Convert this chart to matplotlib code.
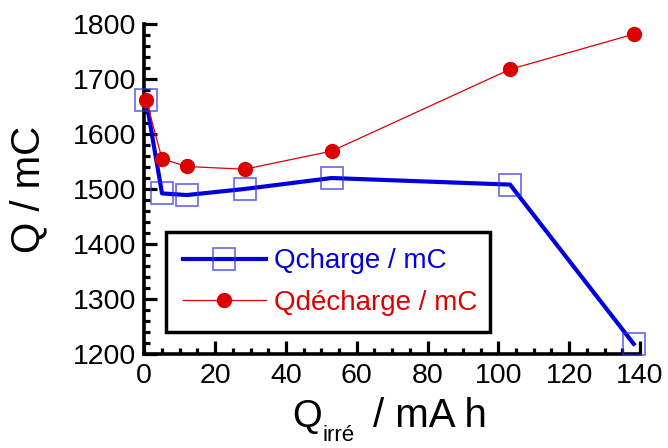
import matplotlib
matplotlib.use("Agg")
import matplotlib.pyplot as plt
from matplotlib.ticker import MultipleLocator

plt.rcParams['font.family'] = ['Liberation Sans', 'DejaVu Sans']

# Data
q_irr = [0.5, 5.0, 12.0, 28.3, 52.9, 103.3, 138.2]
q_charge = [1662, 1492, 1489, 1500, 1520, 1508, 1218]
q_decharge = [1663, 1555, 1541, 1536, 1569, 1718, 1782]
x_ticks = [0, 20, 40, 60, 80, 100, 120, 140]
y_ticks = [1200, 1300, 1400, 1500, 1600, 1700, 1800]
label_charge = "Qcharge / mC"
label_decharge = "Qdécharge / mC"

W, H = 668, 448
fig = plt.figure(figsize=(W / 100, H / 100), dpi=100)
ax = fig.add_axes([144.3 / W, 1 - 353.7 / H, (640 - 144.3) / W, (353.7 - 24.3) / H])

blue = '#0000dd'
red = '#dd0000'

ax.plot(q_irr, q_charge, color=blue, lw=3.0, marker='s', markersize=16,
        markerfacecolor='none', markeredgecolor=(0.2, 0.2, 0.9, 0.75),
        markeredgewidth=1.2, clip_on=False, label=label_charge, zorder=3)
ax.plot(q_irr, q_decharge, color=red, lw=0.9, marker='o', markersize=10,
        markerfacecolor=red, markeredgecolor=red, clip_on=False,
        label=label_decharge, zorder=4)

ax.set_xlim(0, 140)
ax.set_ylim(1200, 1800)
ax.set_xticks(x_ticks)
ax.set_yticks(y_ticks)
ax.xaxis.set_minor_locator(MultipleLocator(5))
ax.yaxis.set_minor_locator(MultipleLocator(20))

for s in ['top', 'right']:
    ax.spines[s].set_visible(False)
for s in ['left', 'bottom']:
    ax.spines[s].set_linewidth(2.6)

ax.tick_params(which='major', direction='in', length=9.5, width=2.3,
               labelsize=20.5)
ax.tick_params(which='minor', direction='in', length=4.5, width=2.3)
ax.tick_params(axis='y', pad=6)
ax.tick_params(axis='x', pad=7)

ax.set_ylabel("Q / mC", fontsize=29, labelpad=18)

# x label built from pieces (Q, low subscript, rest)
fig.text(292 / W, 1 - 427 / H, "Q", fontsize=27.5, ha='left', va='baseline')
fig.text(322 / W, 1 - 441 / H, "irré", fontsize=16, ha='left', va='baseline')
fig.text(373 / W, 1 - 427 / H, "/ mA h", fontsize=29, ha='left', va='baseline')

leg = ax.legend(loc='upper left',
                bbox_to_anchor=((166 - 144.3) / 495.7, (353.7 - 235) / 329.4,
                                (490 - 166) / 495.7, 0.01),
                mode='expand', fontsize=20, frameon=True, fancybox=False,
                framealpha=1.0, edgecolor='black', handlelength=3.0,
                borderpad=0.6, labelspacing=0.55, handletextpad=0.3,
                borderaxespad=0)
leg.get_frame().set_linewidth(2.5)
for txt, c in zip(leg.get_texts(), [blue, red]):
    txt.set_color(c)

fig.savefig("out.png", dpi=100)
